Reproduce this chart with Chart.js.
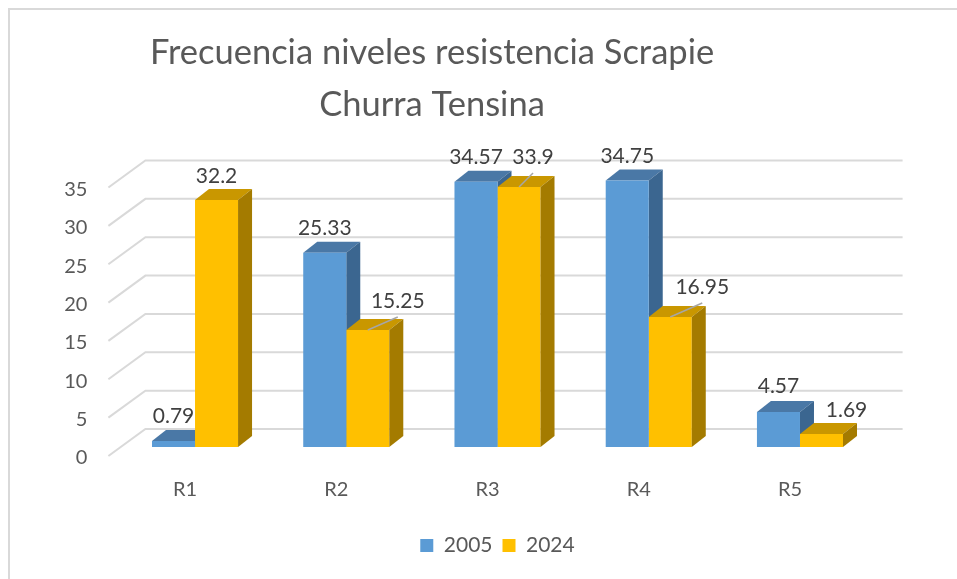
<!DOCTYPE html>
<html>
<head>
<meta charset="utf-8">
<script src="https://cdn.jsdelivr.net/npm/chart.js@4.4.1/dist/chart.umd.min.js"></script>
<style>
  html, body { margin: 0; background: #fff; }
  canvas { display: block; }
</style>
</head>
<body>
<canvas id="grafico" width="957" height="579"></canvas>
<script>
const categorias = ['R1', 'R2', 'R3', 'R4', 'R5'];
const valores2005 = [0.79, 25.33, 34.57, 34.75, 4.57];
const valores2024 = [32.2, 15.25, 33.9, 16.95, 1.69];
const series = ['2005', '2024'];
const titulo = ['Frecuencia niveles resistencia Scrapie', 'Churra Tensina'];

const FUENTE = 'Lato, "Open Sans", sans-serif';
const GRIS = '#595959';

// colores: frente, techo, lateral
const colores = [
    { frente: '#5B9BD5', techo: '#4A78A6', lado: '#3B6690' },
    { frente: '#FFC000', techo: '#C99700', lado: '#A47B00' }
];

// profundidad de las barras y de la pared de fondo
const PROF = { dx: 14, dy: -11 };
const PARED = { fx: -11, fy: 9, bx: 26, by: -18, fin: 27 };

// posicion de las etiquetas respecto al frente superior de cada barra [dx, dy, linea guia]
const posEtiquetas = [
    [[0, -25], [0, -24], [0, -25], [0, -24], [0, -26]],
    [[0, -24], [30, -29, true], [14, -30, true], [32, -30, true], [25, -24]]
];

function dibujarCaras(chart, i) {
    const ctx = chart.ctx;
    const meta = chart.getDatasetMeta(i);
    const c = colores[i];
    ctx.save();
    meta.data.forEach(barra => {
        const { x, y, base, width } = barra.getProps(['x', 'y', 'base', 'width'], true);
        const izq = x - width / 2;
        const der = x + width / 2;
        // techo
        ctx.fillStyle = c.techo;
        ctx.beginPath();
        ctx.moveTo(izq, y);
        ctx.lineTo(izq + PROF.dx, y + PROF.dy);
        ctx.lineTo(der + PROF.dx, y + PROF.dy);
        ctx.lineTo(der, y);
        ctx.closePath();
        ctx.fill();
        // lateral
        ctx.fillStyle = c.lado;
        ctx.beginPath();
        ctx.moveTo(der, y);
        ctx.lineTo(der + PROF.dx, y + PROF.dy);
        ctx.lineTo(der + PROF.dx, base + PROF.dy);
        ctx.lineTo(der, base);
        ctx.closePath();
        ctx.fill();
    });
    ctx.restore();
}

function dibujarEtiquetas(chart) {
    const ctx = chart.ctx;
    ctx.save();
    ctx.font = '21px ' + FUENTE;
    ctx.textAlign = 'center';
    ctx.textBaseline = 'middle';
    chart.data.datasets.forEach((ds, i) => {
        chart.getDatasetMeta(i).data.forEach((barra, j) => {
            const p = posEtiquetas[i][j];
            const lx = barra.x + p[0];
            const ly = barra.y + p[1];
            if (p[2]) {
                ctx.strokeStyle = '#A6A6A6';
                ctx.lineWidth = 1.5;
                ctx.beginPath();
                ctx.moveTo(barra.x, barra.y);
                ctx.lineTo(lx, ly + 16);
                ctx.stroke();
            }
            ctx.fillStyle = '#404040';
            ctx.fillText(String(ds.data[j]), lx, ly);
        });
    });
    ctx.restore();
}

const barras3D = {
    id: 'barras3D',
    beforeDraw(chart) {
        const ctx = chart.ctx;
        ctx.save();
        ctx.fillStyle = '#fff';
        ctx.fillRect(0, 0, chart.width, chart.height);
        ctx.strokeStyle = '#D9D9D9';
        ctx.lineWidth = 2;
        ctx.beginPath();
        ctx.moveTo(9, chart.height);
        ctx.lineTo(9, 9);
        ctx.lineTo(chart.width, 9);
        ctx.stroke();
        ctx.fillStyle = GRIS;
        ctx.font = '34.5px ' + FUENTE;
        ctx.textAlign = 'center';
        ctx.textBaseline = 'alphabetic';
        ctx.fillText(titulo[0], 432, 64);
        ctx.fillText(titulo[1], 432, 116);
        ctx.restore();
    },
    beforeDatasetsDraw(chart) {
        const ctx = chart.ctx;
        const escalaY = chart.scales.y;
        const area = chart.chartArea;
        ctx.save();
        ctx.strokeStyle = '#D9D9D9';
        ctx.lineWidth = 2;
        escalaY.ticks.forEach(t => {
            const py = escalaY.getPixelForValue(t.value);
            ctx.beginPath();
            ctx.moveTo(area.left + PARED.fx, py + PARED.fy);
            ctx.lineTo(area.left + PARED.bx, py + PARED.by);
            ctx.lineTo(area.right + PARED.fin, py + PARED.by);
            ctx.stroke();
        });
        ctx.restore();
        dibujarCaras(chart, 0);
    },
    afterDatasetsDraw(chart) {
        dibujarCaras(chart, 1);
        dibujarEtiquetas(chart);
    }
};

new Chart(document.getElementById('grafico'), {
    type: 'bar',
    data: {
        labels: categorias,
        datasets: [
            { label: series[0], data: valores2005, backgroundColor: colores[0].frente },
            { label: series[1], data: valores2024, backgroundColor: colores[1].frente }
        ]
    },
    options: {
        responsive: false,
        animation: false,
        events: [],
        categoryPercentage: 0.569,
        barPercentage: 1,
        layout: { padding: { top: 178.5, left: 0, right: 81.4, bottom: 13 } },
        scales: {
            x: {
                grid: { display: false, drawTicks: false },
                border: { display: false },
                ticks: { color: GRIS, font: { family: FUENTE, size: 20 }, padding: 31, labelOffset: -10 },
                afterFit: s => { s.height = 78; }
            },
            y: {
                min: 0,
                max: 35,
                grid: { display: false, drawTicks: false },
                border: { display: false },
                ticks: { stepSize: 5, color: GRIS, font: { family: FUENTE, size: 20 }, padding: 32, labelOffset: 11 },
                afterFit: s => { s.width = 119.4; }
            }
        },
        plugins: {
            title: { display: false },
            tooltip: { enabled: false },
            legend: {
                position: 'bottom',
                fullSize: false,
                labels: { color: GRIS, font: { family: FUENTE, size: 21 }, boxWidth: 13, boxHeight: 13, padding: 10 }
            }
        }
    },
    plugins: [barras3D]
});
</script>
</body>
</html>
